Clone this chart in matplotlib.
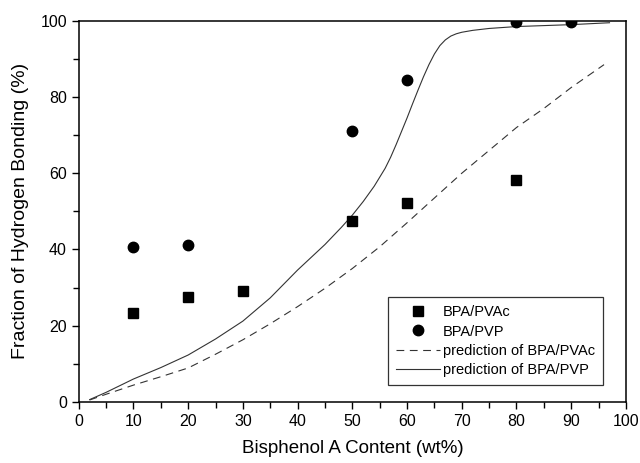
import matplotlib
matplotlib.use("Agg")
import matplotlib.pyplot as plt
from matplotlib.ticker import MultipleLocator

plt.rcParams['font.family'] = ['Liberation Sans', 'DejaVu Sans']

# Measured data
pvac_x = [10, 20, 30, 50, 60, 80]
pvac_y = [23.2, 27.5, 29.2, 47.6, 52.1, 58.1]
pvp_x = [10, 20, 50, 60, 80, 90]
pvp_y = [40.6, 41.2, 71.2, 84.5, 99.6, 99.6]

# Predictions
pred_pvac_x = [2, 5, 10, 15, 20, 25, 30, 35, 40, 45, 50, 55, 60, 65, 70, 75, 80, 85, 90, 96]
pred_pvac_y = [0.5, 2.0, 4.4, 6.6, 8.9, 12.5, 16.3, 20.5, 25.0, 29.8, 35.0, 40.7, 47.0, 53.5, 60.0, 66.0, 72.0, 77.0, 82.5, 88.5]
pred_pvp_x = [2, 5, 10, 15, 20, 25, 30, 35, 40, 45, 48, 50, 52, 54, 56, 57, 58, 59, 60, 61, 62, 63,
              64, 65, 66, 67, 68, 69, 70, 72, 75, 80, 90, 97]
pred_pvp_y = [0.6, 2.5, 6.0, 9.0, 12.3, 16.5, 21.2, 27.3, 34.6, 41.3, 45.8, 49.0, 52.6, 56.6, 61.3, 64.2,
              67.5, 71.0, 74.5, 78.2, 81.8, 85.3, 88.5, 91.3, 93.5, 95.0, 96.0, 96.6, 97.0, 97.5,
              98.0, 98.5, 99.0, 99.5]

fig = plt.figure(figsize=(6.4, 4.63), dpi=100)
ax = fig.add_axes([0.123, 0.132, 0.855, 0.823])

ax.plot(pred_pvac_x, pred_pvac_y, color='#333333', lw=0.8, ls=(0, (7, 5)),
        label='prediction of BPA/PVAc')
ax.plot(pred_pvp_x, pred_pvp_y, color='#333333', lw=0.8, ls='-',
        label='prediction of BPA/PVP')
ax.plot(pvac_x, pvac_y, ls='none', marker='s', ms=7, color='black', label='BPA/PVAc')
ax.plot(pvp_x, pvp_y, ls='none', marker='o', ms=7.5, color='black', label='BPA/PVP')

ax.set_xlim(0, 100)
ax.set_ylim(0, 100)
ax.xaxis.set_major_locator(MultipleLocator(10))
ax.xaxis.set_minor_locator(MultipleLocator(5))
ax.yaxis.set_major_locator(MultipleLocator(20))
ax.yaxis.set_minor_locator(MultipleLocator(10))
ax.tick_params(which='both', direction='out', top=False, right=False, labelsize=11.5, width=1)
ax.tick_params(which='major', length=5)
ax.tick_params(which='minor', length=4)
for s in ax.spines.values():
    s.set_linewidth(1.1)

ax.set_xlabel('Bisphenol A Content (wt%)', fontsize=13.5, labelpad=8)
ax.set_ylabel('Fraction of Hydrogen Bonding (%)', fontsize=14, labelpad=8)

handles, labels = ax.get_legend_handles_labels()
order = [2, 3, 0, 1]
leg = ax.legend([handles[i] for i in order], [labels[i] for i in order],
                loc='lower left', bbox_to_anchor=(0.565, 0.045),
                fontsize=10.5, frameon=True, fancybox=False, edgecolor='black',
                handlelength=3.0, handletextpad=0.2, borderpad=0.55, labelspacing=0.35,
                borderaxespad=0)
leg.get_frame().set_linewidth(0.9)

fig.savefig('out.png', dpi=100)
